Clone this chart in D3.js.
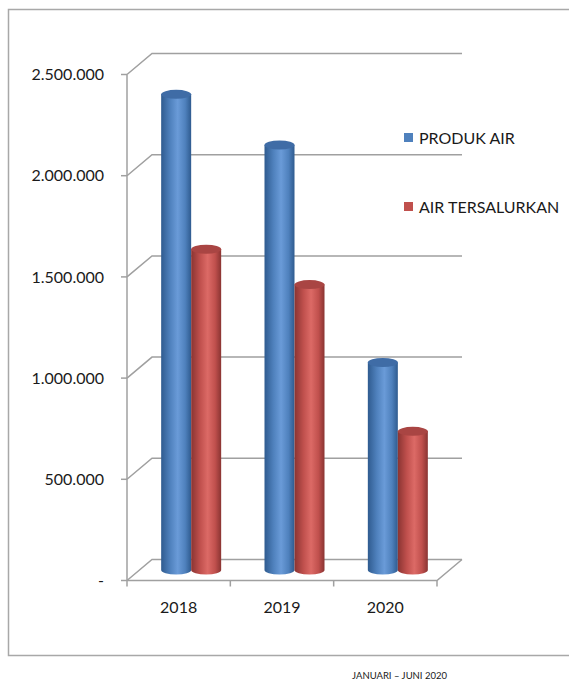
<!DOCTYPE html>
<html>
<head>
<meta charset="utf-8">
<script src="https://cdn.jsdelivr.net/npm/d3@7"></script>
<style>
  body { margin: 0; background: #fff; }
  svg { display: block; font-family: Lato, "Open Sans", sans-serif; }
</style>
</head>
<body>
<svg id="chart"></svg>
<script>
const width = 569;
const height = 681;

// data
const years = ["2018", "2019", "2020"];
const seriesNames = ["PRODUK AIR", "AIR TERSALURKAN"];
const produkAir = [2350000, 2100000, 1025000];
const airTersalurkan = [1585000, 1410000, 685000];
const yTicks = [0, 500000, 1000000, 1500000, 2000000, 2500000];
const yTickLabels = ["-", "500.000", "1.000.000", "1.500.000", "2.000.000", "2.500.000"];

const colors = {
  "PRODUK AIR": { light: "#6a9bd8", mid: "#4f81bd", dark: "#2f5b8f", top: "#3f6ca6" },
  "AIR TERSALURKAN": { light: "#dc6a66", mid: "#c0504d", dark: "#8a3432", top: "#a94543" }
};

const svg = d3.select('#chart').attr('width', width).attr('height', height);

// frame
svg.append('path')
  .attr('d', 'M575,9.5 L8.5,9.5 L8.5,655.5 L575,655.5')
  .attr('fill', 'none').attr('stroke', '#a8a8a8').attr('stroke-width', 1.5);

const x0 = d3.scaleBand().domain(years).range([127, 437]);
const x1 = d3.scaleBand().domain(seriesNames).range([-30, 30]);
const y = d3.scaleLinear().domain([0, 2500000]).range([580.5, 74.5]);
const depthX = 25, depthY = -21;

const grid = svg.append('g').attr('stroke', '#a0a0a0').attr('stroke-width', 1.5).attr('fill', 'none');

// side wall + back wall gridlines
yTicks.forEach(v => {
  const yy = y(v);
  grid.append('path')
    .attr('d', `M127,${yy} L${127 + depthX},${yy + depthY} L${437 + depthX},${yy + depthY}`);
});
// floor
grid.append('path')
  .attr('d', `M127,${y(0)} L437,${y(0)} L${437 + depthX},${y(0) + depthY}`);

// front value axis
grid.append('line').attr('x1', 127).attr('x2', 127).attr('y1', y(2500000)).attr('y2', y(0));
yTicks.forEach(v => {
  grid.append('line').attr('x1', 121).attr('x2', 127).attr('y1', y(v)).attr('y2', y(v));
});
// category ticks
[127].concat(years.map(d => x0(d) + x0.bandwidth())).forEach(xx => {
  grid.append('line').attr('x1', xx).attr('x2', xx).attr('y1', y(0)).attr('y2', y(0) + 6);
});

// y labels
svg.append('g').selectAll('text').data(yTicks).enter().append('text')
  .attr('x', 104)
  .attr('y', d => y(d))
  .attr('dy', '0.35em')
  .attr('text-anchor', 'end')
  .attr('font-size', 16)
  .attr('fill', '#1a1a1a')
  .text((d, i) => yTickLabels[i]);

// x labels
svg.append('g').selectAll('text').data(years).enter().append('text')
  .attr('x', d => x0(d) + x0.bandwidth() / 2)
  .attr('y', 607)
  .attr('dy', '0.35em')
  .attr('text-anchor', 'middle')
  .attr('font-size', 16)
  .attr('fill', '#1a1a1a')
  .text(d => d);

// gradients for the cylinders
const defs = svg.append('defs');
seriesNames.forEach((s, i) => {
  const c = colors[s];
  const g = defs.append('linearGradient').attr('id', 'grad' + i)
    .attr('x1', '0%').attr('x2', '100%').attr('y1', '0%').attr('y2', '0%');
  g.append('stop').attr('offset', '0%').attr('stop-color', c.dark);
  g.append('stop').attr('offset', '30%').attr('stop-color', c.mid);
  g.append('stop').attr('offset', '55%').attr('stop-color', c.light);
  g.append('stop').attr('offset', '80%').attr('stop-color', c.mid);
  g.append('stop').attr('offset', '100%').attr('stop-color', c.dark);
});

const bars = [];
years.forEach((yr, i) => {
  bars.push({ year: yr, series: seriesNames[0], value: produkAir[i], idx: 0 });
  bars.push({ year: yr, series: seriesNames[1], value: airTersalurkan[i], idx: 1 });
});

const ry = 4.5;
const cyl = svg.append('g').selectAll('g').data(bars).enter().append('g')
  .attr('transform', d => `translate(${x0(d.year) + x0.bandwidth() / 2 + x1(d.series) + depthX / 2},${depthY / 2})`);

const bw = x1.bandwidth();
cyl.append('path')
  .attr('d', d => {
    const top = y(d.value), bot = y(0);
    return `M0,${top} L0,${bot} A${bw / 2},${ry} 0 0 0 ${bw},${bot} L${bw},${top} Z`;
  })
  .attr('fill', d => `url(#grad${d.idx})`);
cyl.append('ellipse')
  .attr('cx', bw / 2)
  .attr('cy', d => y(d.value))
  .attr('rx', bw / 2)
  .attr('ry', ry)
  .attr('fill', d => colors[d.series].top);

// legend
const legend = svg.append('g').selectAll('g').data(seriesNames).enter().append('g')
  .attr('transform', (d, i) => `translate(404,${133 + i * 69})`);
legend.append('rect').attr('width', 9).attr('height', 9).attr('fill', d => colors[d].mid);
legend.append('text')
  .attr('x', 15).attr('y', 5).attr('dy', '0.35em')
  .attr('font-size', 16).attr('fill', '#1a1a1a')
  .text(d => d);

// footer
svg.append('text')
  .attr('x', 447).attr('y', 676).attr('dy', '0.35em')
  .attr('text-anchor', 'end')
  .attr('font-size', 9.5).attr('fill', '#1a1a1a')
  .text('JANUARI – JUNI 2020');
</script>
</body>
</html>
